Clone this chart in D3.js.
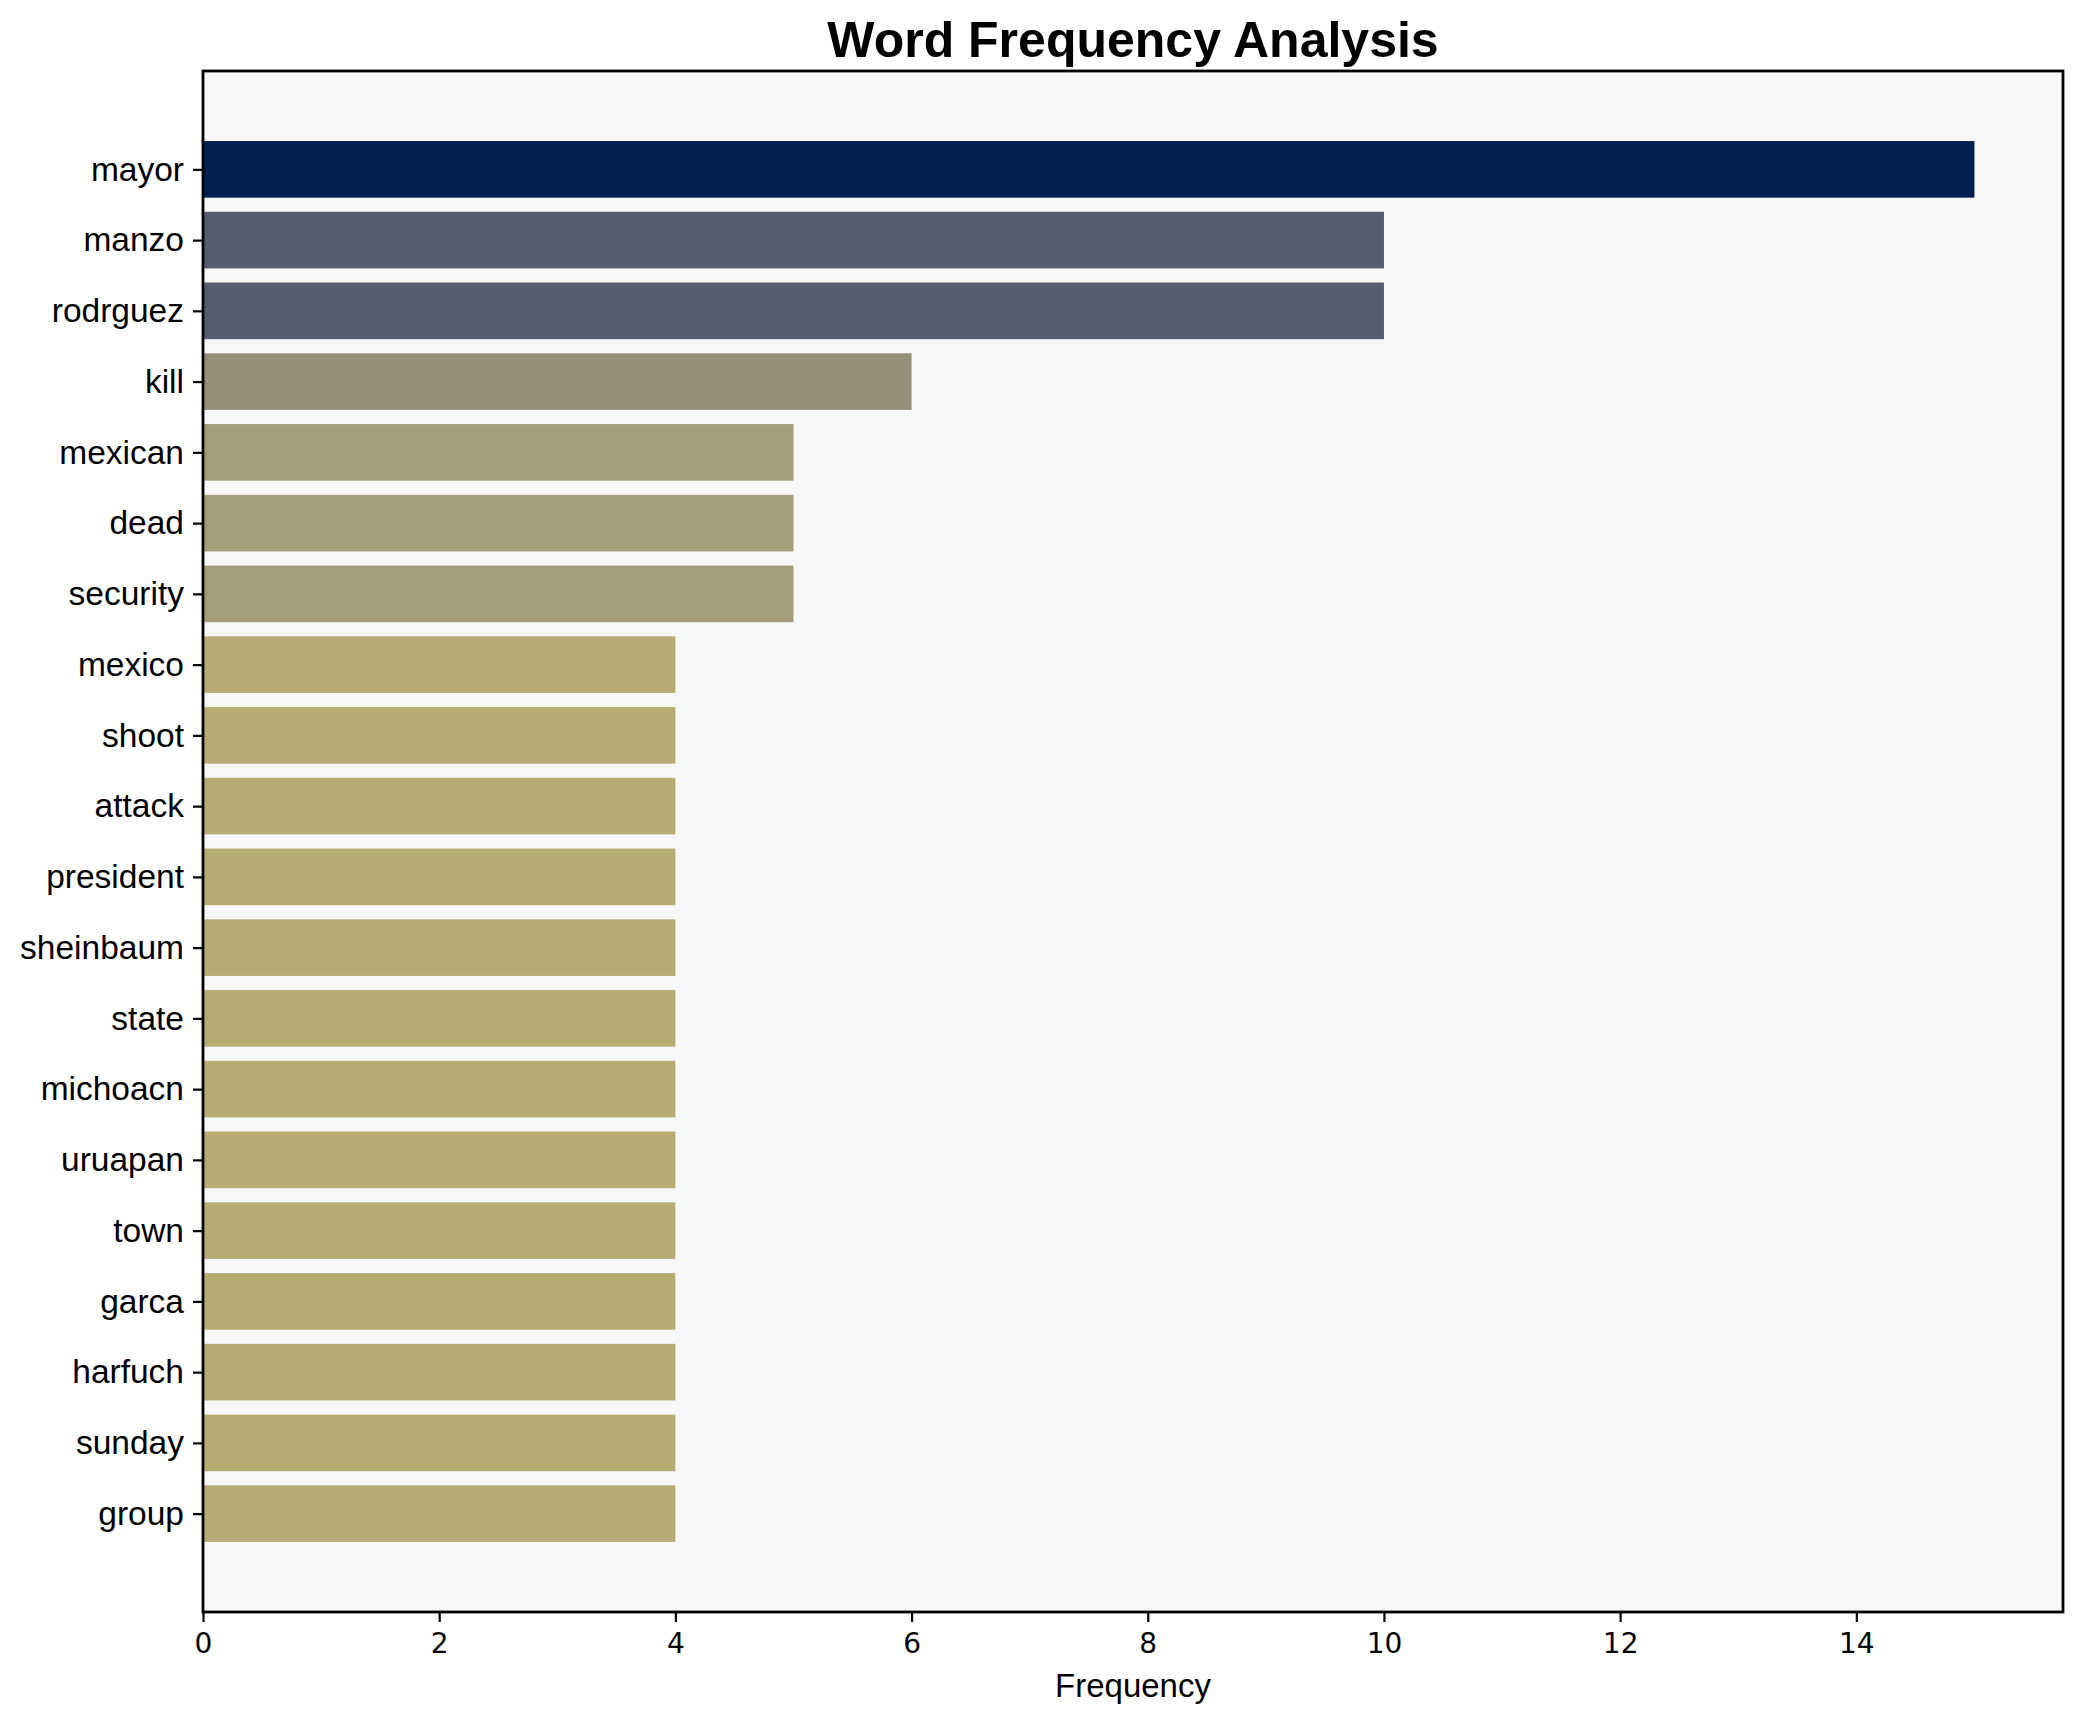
<!DOCTYPE html>
<html>
<head>
<meta charset="utf-8">
<script src="https://cdn.jsdelivr.net/npm/d3@7"></script>
<style>
  html, body { margin: 0; padding: 0; background: #ffffff; }
  svg { display: block; font-family: "Liberation Sans", Arial, sans-serif; }
</style>
</head>
<body>
<svg id="chart" width="2082" height="1722"></svg>
<script>
const words = ["mayor", "manzo", "rodrguez", "kill", "mexican", "dead", "security",
  "mexico", "shoot", "attack", "president", "sheinbaum", "state", "michoacn",
  "uruapan", "town", "garca", "harfuch", "sunday", "group"];
const frequencies = [15, 10, 10, 6, 5, 5, 5, 4, 4, 4, 4, 4, 4, 4, 4, 4, 4, 4, 4, 4];
const xTicks = [0, 2, 4, 6, 8, 10, 12, 14];
const chartTitle = "Word Frequency Analysis";
const xLabel = "Frequency";

(function () {
const svg = d3.select("#chart");
const mLeft = 203, mRight = 2063, mTop = 71, mBottom = 1612;

const maxV = d3.max(frequencies);
const n = words.length;
const pad = (n - 1 + 0.8) * 0.05;
const x = d3.scaleLinear().domain([0, maxV * 1.05]).range([mLeft, mRight]);
const y = d3.scaleLinear().domain([-0.4 - pad, n - 1 + 0.4 + pad]).range([mTop, mBottom]);
const color = v => d3.interpolateCividis(1 - v / maxV);

svg.append("rect").attr("x", mLeft).attr("y", mTop)
  .attr("width", mRight - mLeft).attr("height", mBottom - mTop).attr("fill", "#f7f7f7");

svg.append("g").selectAll("rect").data(frequencies).join("rect")
  .attr("x", x(0))
  .attr("y", (d, i) => y(i - 0.4))
  .attr("width", d => x(d) - x(0))
  .attr("height", (d, i) => y(i + 0.4) - y(i - 0.4))
  .attr("fill", d => color(d));

const yAxis = d3.axisLeft(y).tickValues(d3.range(n)).tickFormat(i => words[i])
  .tickSize(10).tickPadding(9);
const gy = svg.append("g").attr("transform", `translate(${mLeft},0)`).call(yAxis);
gy.select(".domain").remove();
gy.selectAll(".tick line").attr("stroke", "#000").attr("stroke-width", 2.2);
gy.selectAll(".tick text").attr("font-size", 33.5).attr("fill", "#000")
  .attr("font-family", "Liberation Sans, Arial, sans-serif");

const xAxis = d3.axisBottom(x).tickValues(xTicks).tickFormat(d3.format("d"))
  .tickSize(10).tickPadding(11);
const gx = svg.append("g").attr("transform", `translate(0,${mBottom})`).call(xAxis);
gx.select(".domain").remove();
gx.selectAll(".tick line").attr("stroke", "#000").attr("stroke-width", 2.2);
gx.selectAll(".tick text").attr("font-size", 28).attr("fill", "#000")
  .attr("font-family", "DejaVu Sans, sans-serif");

svg.append("rect").attr("x", mLeft).attr("y", mTop)
  .attr("width", mRight - mLeft).attr("height", mBottom - mTop)
  .attr("fill", "none").attr("stroke", "#000").attr("stroke-width", 2.8);

svg.append("text").attr("x", (mLeft + mRight) / 2).attr("y", 57)
  .attr("text-anchor", "middle").attr("font-size", 50).attr("font-weight", "bold")
  .attr("fill", "#000").text(chartTitle);

svg.append("text").attr("x", (mLeft + mRight) / 2).attr("y", 1697)
  .attr("text-anchor", "middle").attr("font-size", 33)
  .attr("fill", "#000").text(xLabel);
})();
</script>
</body>
</html>
